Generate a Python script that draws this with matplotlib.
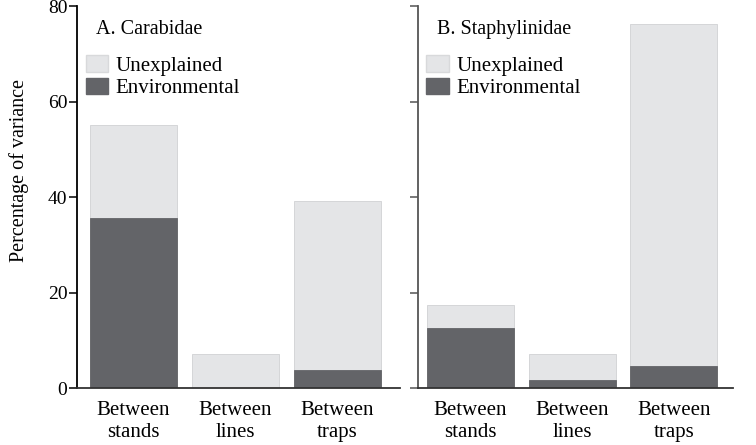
import matplotlib
matplotlib.use("Agg")
import matplotlib.pyplot as plt
from matplotlib.patches import Patch

plt.rcParams.update({
    "font.family": "serif",
    "font.serif": ["Liberation Serif", "DejaVu Serif"],
    "font.size": 14,
})

categories = ["Between\nstands", "Between\nlines", "Between\ntraps"]

# total bar height (unexplained + environmental) and environmental part
carab_total = [55.1, 7.1, 39.2]
carab_env = [35.7, 0.0, 3.7]
staph_total = [17.3, 7.1, 76.3]
staph_env = [12.5, 1.6, 4.6]

light = "#e4e5e7"
dark = "#636468"

fig = plt.figure(figsize=(7.56, 4.45), dpi=100)
ax1 = fig.add_axes([0.102, 0.128, 0.427, 0.858])
ax2 = fig.add_axes([0.553, 0.128, 0.417, 0.858])

x_pos = [i for i, _ in enumerate(categories)]

panels = [
    (ax1, carab_total, carab_env, "A. Carabidae", (-0.554, 2.613), "black"),
    (ax2, staph_total, staph_env, "B. Staphylinidae", (-0.517, 2.586), "#555555"),
]

for ax, total, env, title, xlim, spine_col in panels:
    ax.bar(x_pos, total, width=0.853, color=light, edgecolor="#d0d1d3", linewidth=0.6)
    ax.bar(x_pos, env, width=0.853, color=dark, edgecolor=dark, linewidth=0.6)
    ax.set_xlim(*xlim)
    ax.set_ylim(0, 80)
    ax.set_yticks([0, 20, 40, 60, 80])
    ax.set_xticks(x_pos)
    ax.set_xticklabels(categories, linespacing=1.25)
    ax.tick_params(axis="x", length=0, pad=9, labelsize=15)
    ax.tick_params(axis="y", length=6, width=1.1, direction="out",
                   color=spine_col, labelsize=14, pad=1)
    ax.spines["top"].set_visible(False)
    ax.spines["right"].set_visible(False)
    ax.spines["left"].set_color(spine_col)
    ax.spines["left"].set_linewidth(1.3)
    ax.spines["bottom"].set_color("#333333")
    ax.spines["bottom"].set_linewidth(1.3)

    ax.text(0.06, 0.94, title, transform=ax.transAxes, fontsize=14.5,
            ha="left", va="center")
    handles = [Patch(facecolor=light, edgecolor="#d8d9db", label="Unexplained"),
               Patch(facecolor=dark, edgecolor=dark, label="Environmental")]
    ax.legend(handles=handles, loc="upper left", bbox_to_anchor=(0.026, 0.872),
              frameon=False, fontsize=15, handlelength=1.1, handleheight=0.85,
              handletextpad=0.35, labelspacing=0.1, borderpad=0, borderaxespad=0)

ax2.tick_params(axis="y", labelleft=False)
ax1.set_ylabel("Percentage of variance", fontsize=14.5)
ax1.yaxis.set_label_coords(-0.15, 0.57)

plt.savefig("out.png", dpi=100)
